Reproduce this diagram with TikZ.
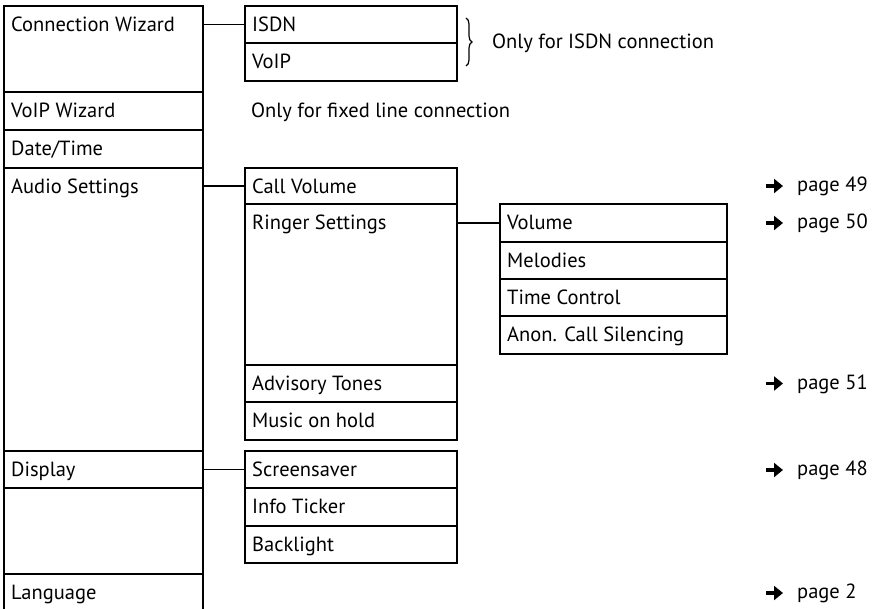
\documentclass[tikz,border=0pt]{standalone}
\usepackage{fontspec}
\setmainfont{PT Sans}
\usetikzlibrary{arrows.meta,decorations.pathreplacing,calc}
\newcommand\mcell[6]{%
  \node[cellbox, minimum width=#4pt, minimum height=#5pt] (#1) at (#2,#3) {};
  \node[celltext] (#1t) at ([shift={(7pt,-25pt)}]#1.north west) {#6};}
\newcommand\pgref[3]{%
  \node[celltext] (#1) at (797,#2+5.5) {page #3};
  \draw[pagearrow] ([xshift=-31pt,yshift=5.5pt]#1.base west) -- ([xshift=-14pt,yshift=5.5pt]#1.base west);}
\begin{document}
\begin{tikzpicture}[x=1pt,y=-1pt,
  cellbox/.style={draw, line width=1.2pt, anchor=north west, inner sep=0pt, outer sep=0pt},
  celltext/.style={anchor=base west, inner sep=0pt, font=\fontsize{20.5}{24}\selectfont},
  link/.style={line width=1.2pt},
  pagearrow/.style={line width=3.6pt, -{Triangle[length=9pt,width=14pt]}}]
\clip (0,0) rectangle (877,608);
\fill[white] (0,0) rectangle (877,608);
% column 1
\mcell{cw}{4}{6}{199}{86}{Connection Wizard}
\mcell{vw}{4}{92}{199}{38}{VoIP Wizard}
\mcell{dt}{4}{130}{199}{38}{Date/Time}
\mcell{au}{4}{168}{199}{283}{Audio Settings}
\mcell{di}{4}{451}{199}{37}{Display}
\mcell{db}{4}{488}{199}{86}{}
\mcell{la}{4}{574}{199}{60}{Language}
% column 2
\mcell{is}{245}{6}{212}{37}{ISDN}
\mcell{vo}{245}{43}{212}{38}{VoIP}
\mcell{cv}{245}{168}{212}{36}{Call Volume}
\mcell{rs}{245}{204}{212}{161}{Ringer Settings}
\mcell{at}{245}{365}{212}{37}{Advisory Tones}
\mcell{mh}{245}{402}{212}{38}{Music on hold}
\mcell{ss}{245}{451}{212}{37}{Screensaver}
\mcell{it}{245}{488}{212}{38}{Info Ticker}
\mcell{bl}{245}{526}{212}{37}{Backlight}
% column 3
\mcell{v}{500}{204}{227}{38}{Volume}
\mcell{me}{500}{242}{227}{37}{Melodies}
\mcell{tc}{500}{279}{227}{37}{Time Control}
\mcell{an}{500}{316}{227}{38}{Anon. Call Silencing}
% connectors
\draw[link] (cw.east |- is.west) -- (is.west);
\draw[link] (au.east |- cv.west) -- (cv.west);
\draw[link] (rs.east |- v.west) -- (v.west);
\draw[link] (di.east |- ss.west) -- (ss.west);
% notes
\coordinate (bt) at (466,18);
\coordinate (bb) at (466,66);
\draw[line width=1.2pt, decorate, decoration={brace, amplitude=6pt}] (bt) -- (bb);
\node[celltext] (isdnnote) at (492,48) {Only for ISDN connection};
\node[celltext] (fixednote) at (251,117) {Only for fixed line connection};
% page references
\pgref{p49}{186}{49}
\pgref{p50}{223}{50}
\pgref{p51}{383.5}{51}
\pgref{p48}{470}{48}
\pgref{p2}{593}{2}
\end{tikzpicture}
\end{document}
